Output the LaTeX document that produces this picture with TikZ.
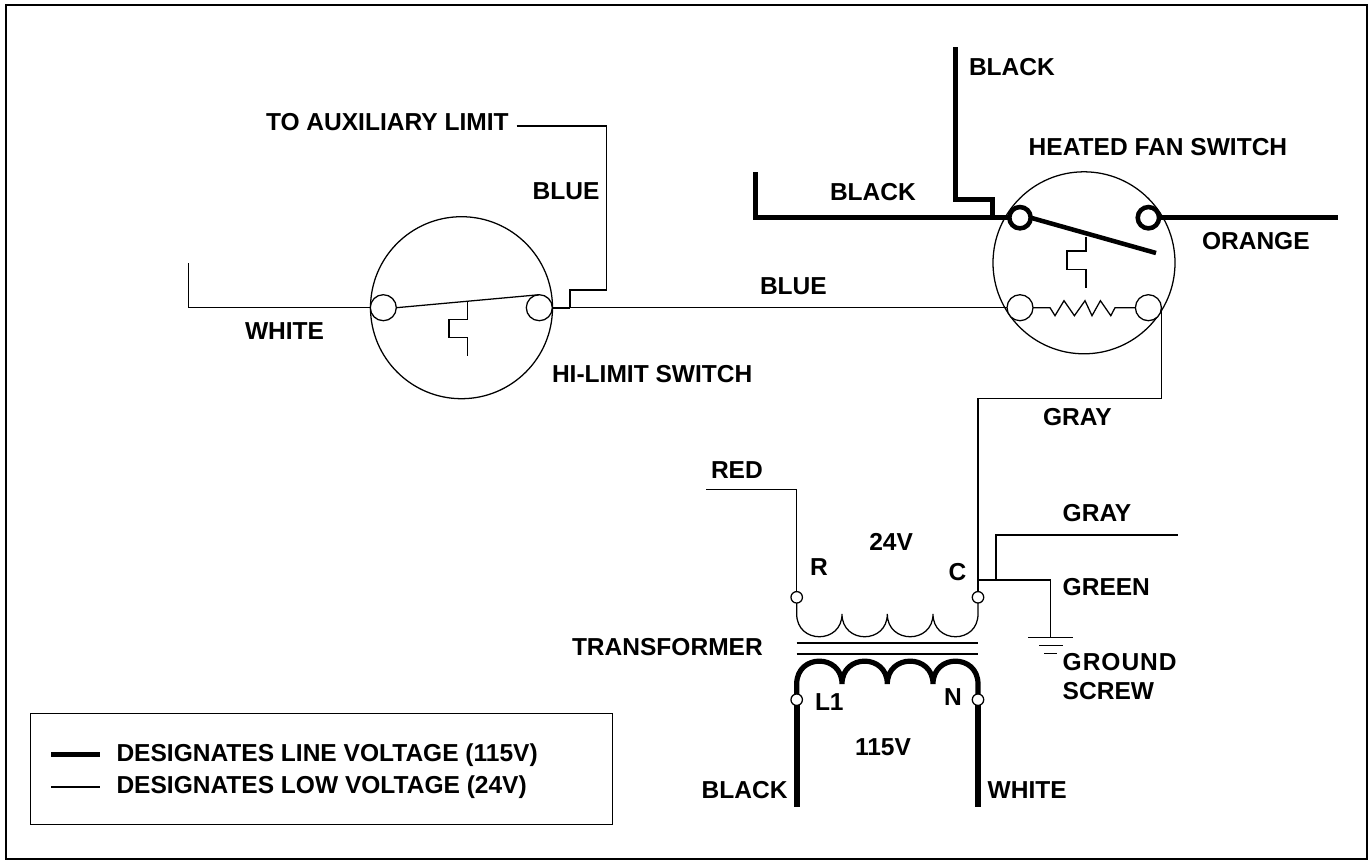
\documentclass[tikz,border=0pt]{standalone}
\usepackage{fontspec}
\setmainfont{Liberation Sans}
\newcommand{\spaced}[2]{{\addfontfeature{LetterSpace=#1}#2}}
\tikzset{
  thinw/.style={line width=0.95pt,line join=miter},
  thickw/.style={line width=3.9pt,line join=miter},
  heavyw/.style={line width=4.6pt},
  lbl/.style={anchor=base west,inner sep=0pt,outer sep=0pt,font=\fontsize{18.4}{20}\selectfont\bfseries},
  term/.style={circle,draw,fill=white,line width=0.95pt,minimum size=19.5pt,inner sep=0pt,outer sep=0pt},
  termthick/.style={circle,draw,fill=white,line width=3.4pt,minimum size=16pt,inner sep=0pt,outer sep=0pt},
  tiny/.style={circle,draw,fill=white,line width=0.95pt,minimum size=8.6pt,inner sep=0pt,outer sep=0pt},
  dial/.style={circle,draw,line width=0.95pt,minimum size=136.5pt,inner sep=0pt,outer sep=0pt}
}
\begin{document}
\begin{tikzpicture}[x=0.75pt,y=-0.75pt]
\useasboundingbox (0,0) rectangle (1371,861);
\node[draw,line width=1.5pt,minimum width=1020.75pt,minimum height=640.5pt,inner sep=0pt,outer sep=0pt,anchor=north west] (frame) at (5.5,5) {};

% ---- named free ends
\coordinate (whiteEnd) at (188.5,263);
\coordinate (auxEnd) at (516.7,126);
\coordinate (auxTee) at (570,307.7);
\coordinate (blackLEnd) at (755.3,172.3);
\coordinate (blackTEnd) at (955.5,47);
\coordinate (blackTee) at (992.3,217.7);
\coordinate (orangeEnd) at (1338,217.7);
\coordinate (redEnd) at (706,489.3);
\coordinate (cTee) at (978,580);
\coordinate (grayTee) at (996,580);
\coordinate (grayEnd) at (1177.7,535);
\coordinate (gnd) at (1050.7,637.3);
\coordinate (blackBEnd) at (796.7,807);
\coordinate (whiteBEnd) at (978,807);

% ---- hi-limit switch
\node[dial] (hl) at (461.5,307.7) {};
\draw[thinw] (whiteEnd) |- (hl.west);
\draw[line width=1.5pt] (hl.east) -- (auxTee);
\draw[thinw] (auxEnd) -| (606.7,290) -| (auxTee);
\node[term] (hlL) at (383.3,307.7) {};
\node[term] (hlR) at (539.3,307.7) {};
\draw[thinw] (hlL.east) -- (hlR.north);
\draw[thinw] (467.3,301.7) |- (449,319.3) |- (467.3,337.7) -- (467.3,355.7);

% ---- fan switch
\node[dial] (fs) at (1084,262.8) {};
\node[term] (fsLL) at (1020,307.7) {};
\node[term] (fsLR) at (1148.4,307.7) {};
\draw[thinw] (auxTee) -- (fsLL.west);
\draw[thinw] (fsLL.east) -- (1050,307.7) -- (1055,315.7) -- (1064,300.7) -- (1074.4,315.7) -- (1085,300.7) -- (1092,315.7) -- (1100.4,300.7) -- (1110.8,315.7) -- (1115,307.7) -- (fsLR.west);
\draw[thinw] (1086,236.7) |- (1067,251) |- (1086,269.7) -- (1086,287.7);
\draw[thickw] (blackLEnd) |- (blackTee) -- (1012,217.7);
\draw[thickw] (blackTEnd) |- (blackTee |- 0,199.5) -- (blackTee);
\node[termthick] (fsUL) at (1020,217.7) {};
\node[termthick] (fsUR) at (1148.4,217.7) {};
\draw[thickw] (fsUR.east) -- (orangeEnd);
\draw[line width=3.4pt] (fsUL.east) -- (1156,253);

% ---- gray link
\node[tiny] (tC) at (978,597.3) {};
\node[tiny] (tR) at (796.7,597.3) {};
\draw[thinw] (fsLR.east) |- (tC.north |- 0,398.7) -- (tC.north);
\draw[thinw] (redEnd) -| (tR.north);
\draw[thinw] (cTee) -| (gnd);
\draw[thinw] (grayTee) |- (grayEnd);

% ---- ground
\draw[thinw] (1028,637.3) -- (1073.3,637.3);
\draw[thinw] (1039,645.3) -- (1062.7,645.3);
\draw[thinw] (1044.3,653.7) -- (1056.7,653.7);

% ---- transformer
\draw[thinw] (tR.south) -- (796.7,614)
  .. controls (796.7,644.3) and (842,644.3) .. (842,614)
  .. controls (842,644.3) and (887.3,644.3) .. (887.3,614)
  .. controls (887.3,644.3) and (933,644.3) .. (933,614)
  .. controls (933,644.3) and (978,644.3) .. (978,614) -- (tC.south);
\draw[line width=1.2pt] (796.7,643.2) -- (978,643.2);
\draw[line width=1.2pt] (796.7,653.8) -- (978,653.8);
\node[tiny] (tL) at (796.7,699.7) {};
\node[tiny] (tN) at (978,699.7) {};
\draw[thickw] (tL.north) -- (796.7,684)
  .. controls (796.7,653.5) and (842,653.5) .. (842,684)
  .. controls (842,653.5) and (887.3,653.5) .. (887.3,684)
  .. controls (887.3,653.5) and (933,653.5) .. (933,684)
  .. controls (933,653.5) and (978,653.5) .. (978,684) -- (tN.north);
\draw[heavyw] (tL.south) -- (blackBEnd);
\draw[heavyw] (tN.south) -- (whiteBEnd);

% ---- legend
\node[draw,line width=0.75pt,minimum width=436.5pt,minimum height=83.25pt,inner sep=0pt,outer sep=0pt,anchor=north west] (legend) at (30,713) {};
\coordinate (lgA) at (51,754.5); \coordinate (lgB) at (100,754.5);
\coordinate (lgC) at (51,787); \coordinate (lgD) at (100,787);
\draw[thickw] (lgA) -- (lgB);
\draw[thinw] (lgC) -- (lgD);
\node[lbl] (t1) at (116.5,761) {DESIGNATES LINE VOLTAGE (115V)};
\node[lbl] (t2) at (116.5,793.5) {DESIGNATES LOW VOLTAGE (24V)};

% ---- labels
\node[lbl] (a1) at (266,130.5) {TO AUXILIARY LIMIT};
\node[lbl] (a2) at (532.7,199.5) {BLUE};
\node[lbl] (a3) at (245,339) {WHITE};
\node[lbl] (a4) at (552,382.5) {HI-LIMIT SWITCH};
\node[lbl] (a5) at (760,294.5) {BLUE};
\node[lbl] (a6) at (969,75.5) {BLACK};
\node[lbl] (a7) at (1028.7,155) {HEATED FAN SWITCH};
\node[lbl] (a8) at (830,200) {BLACK};
\node[lbl] (a9) at (1202,249.5) {ORANGE};
\node[lbl] (a10) at (1043,425) {GRAY};
\node[lbl] (a11) at (711,478) {RED};
\node[lbl] (a12) at (869.3,550.5) {24V};
\node[lbl] (a13) at (810,575.5) {R};
\node[lbl] (a14) at (948.7,580.5) {C};
\node[lbl] (a15) at (572,655.5) {TRANSFORMER};
\node[lbl] (a16) at (815,710) {L1};
\node[lbl] (a17) at (944,705) {N};
\node[lbl] (a18) at (855,755) {115V};
\node[lbl] (a19) at (701.7,798.3) {BLACK};
\node[lbl] (a20) at (987.7,798.3) {WHITE};
\node[lbl] (a21) at (1062.7,521.5) {GRAY};
\node[lbl] (a22) at (1062.7,595.5) {GREEN};
\node[lbl] (a23) at (1062.7,670) {\spaced{4}{GROUND}};
\node[lbl] (a24) at (1062.7,699.5) {SCREW};
\end{tikzpicture}
\end{document}
